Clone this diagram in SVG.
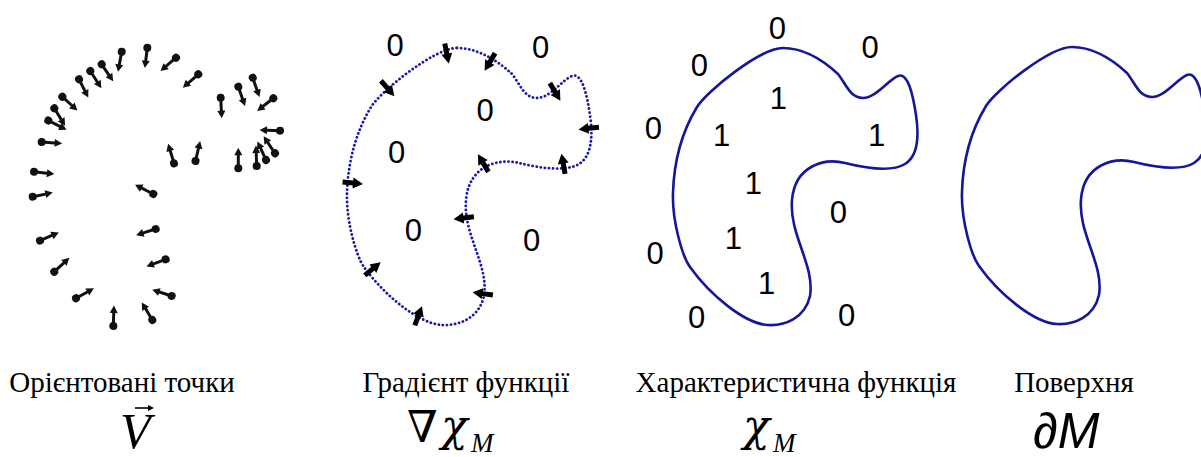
<svg xmlns="http://www.w3.org/2000/svg" width="1201" height="457" viewBox="0 0 1201 457">
<style>
.bg{fill:#fff}
.shape{fill:none;stroke:#16169a;stroke-width:2.6;stroke-linejoin:round}
.dotted{fill:none;stroke:#1a1aa6;stroke-width:2.8;stroke-dasharray:0.1 4;stroke-linecap:round}
.dig{font-family:"Liberation Sans",Arial,sans-serif;font-size:31px;fill:#000;text-anchor:middle}
.lbl{font-family:"Liberation Serif","Times New Roman",serif;font-size:29px;fill:#000;text-anchor:middle}
.math{font-family:"Liberation Serif","DejaVu Serif",serif;fill:#000}
.greek{font-family:"DejaVu Serif","Liberation Serif",serif;font-style:italic;fill:#000}
.pin{fill:#111}
.garr{fill:#000}
</style>
<defs>
<path id="blob" d="M783,48 C805,48 825,62 838,74 C846,84 850,98 863,98 C876,98 888,80 898,76 C908,72 913,95 916,115 C919,135 918,156 905,164 C892,172 865,168 845,163 C825,158 795,165 792,200 C789,235 815,265 810,296 C805,318 785,326 768,325 C745,324 710,295 690,267 C682,256 672,220 673,193 C674,160 683,130 697,107 C706,92 760,48 783,48 Z"/>
<g id="pin"><circle r="4"/><path d="M0,-1.5 H13 V-4 L20.5,0 L13,4 V1.5 H0 Z"/></g>
<path id="ga" d="M-10,-2.5 H0.5 V-5.5 L10.5,0 L0.5,5.5 V2.5 H-10 Z"/>
</defs>
<rect class="bg" width="1201" height="457"/>

<g id="oriented-points" class="pin">
<use href="#pin" transform="translate(121.7,51.7) rotate(100.5)"/>
<use href="#pin" transform="translate(147.3,47.7) rotate(96.9)"/>
<use href="#pin" transform="translate(101.7,64.3) rotate(56)"/>
<use href="#pin" transform="translate(90.3,71) rotate(57.4)"/>
<use href="#pin" transform="translate(79,79.3) rotate(63.2)"/>
<use href="#pin" transform="translate(62.3,96.7) rotate(42.7)"/>
<use href="#pin" transform="translate(54.3,108.3) rotate(58.1)"/>
<use href="#pin" transform="translate(48.3,120.5) rotate(27)"/>
<use href="#pin" transform="translate(41.7,142) rotate(3.9)"/>
<use href="#pin" transform="translate(176,57.7) rotate(139.3)"/>
<use href="#pin" transform="translate(198.3,74.3) rotate(139.1)"/>
<use href="#pin" transform="translate(220.7,97.7) rotate(87.1)"/>
<use href="#pin" transform="translate(238.3,86.7) rotate(70.9)"/>
<use href="#pin" transform="translate(252.7,77.7) rotate(70.8)"/>
<use href="#pin" transform="translate(273.3,98.3) rotate(142)"/>
<use href="#pin" transform="translate(280,130.7) rotate(182)"/>
<use href="#pin" transform="translate(275,153.3) rotate(236.3)"/>
<use href="#pin" transform="translate(266,160) rotate(245.2)"/>
<use href="#pin" transform="translate(256.7,166) rotate(267.9)"/>
<use href="#pin" transform="translate(238.3,168.3) rotate(270)"/>
<use href="#pin" transform="translate(174,163.3) rotate(253.3)"/>
<use href="#pin" transform="translate(195.5,161) rotate(283.1)"/>
<use href="#pin" transform="translate(34,171.7) rotate(6.6)"/>
<use href="#pin" transform="translate(32.7,196.7) rotate(-11.5)"/>
<use href="#pin" transform="translate(40,240.7) rotate(-23.6)"/>
<use href="#pin" transform="translate(54.3,271.7) rotate(-42.5)"/>
<use href="#pin" transform="translate(76,298.3) rotate(-29.1)"/>
<use href="#pin" transform="translate(113.3,326) rotate(-88)"/>
<use href="#pin" transform="translate(152.3,320) rotate(-120.9)"/>
<use href="#pin" transform="translate(171.7,296) rotate(198.1)"/>
<use href="#pin" transform="translate(165.7,259.3) rotate(159.8)"/>
<use href="#pin" transform="translate(155.7,229) rotate(162.5)"/>
<use href="#pin" transform="translate(153.3,194) rotate(207.1)"/>
</g>

<g id="gradient">
<use href="#blob" class="dotted" transform="translate(-326,0)"/>
<g class="garr">
<use href="#ga" transform="translate(446.7,53.3) rotate(78.8)"/>
<use href="#ga" transform="translate(490,61.7) rotate(120.9)"/>
<use href="#ga" transform="translate(387.5,88.3) rotate(48.9)"/>
<use href="#ga" transform="translate(555,91.7) rotate(59.1)"/>
<use href="#ga" transform="translate(589,128.3) rotate(173.8)"/>
<use href="#ga" transform="translate(563.3,164) rotate(-100.2)"/>
<use href="#ga" transform="translate(483.3,163.3) rotate(-120.9)"/>
<use href="#ga" transform="translate(352.5,183) rotate(5.3)"/>
<use href="#ga" transform="translate(464,218) rotate(172.9)"/>
<use href="#ga" transform="translate(372.5,269) rotate(-39.4)"/>
<use href="#ga" transform="translate(483,293.7) rotate(-172.1)"/>
<use href="#ga" transform="translate(418.3,316) rotate(-69.3)"/>
</g>
<g class="dig">
<text x="395" y="56">0</text>
<text x="540.7" y="57.7">0</text>
<text x="485" y="121">0</text>
<text x="396.7" y="162.7">0</text>
<text x="413.3" y="241">0</text>
<text x="531.7" y="251">0</text>
</g>
</g>

<g id="characteristic">
<use href="#blob" class="shape"/>
<g class="dig">
<text x="777.3" y="39.3">0</text>
<text x="870" y="57.7">0</text>
<text x="699.3" y="76">0</text>
<text x="653.3" y="139.3">0</text>
<text x="778.3" y="109.3">1</text>
<text x="721.7" y="146">1</text>
<text x="876.7" y="146">1</text>
<text x="753.3" y="194.3">1</text>
<text x="838.3" y="222.7">0</text>
<text x="733.3" y="249.3">1</text>
<text x="655" y="264.3">0</text>
<text x="766.7" y="294.3">1</text>
<text x="696.7" y="327.7">0</text>
<text x="846.7" y="326">0</text>
</g>
</g>

<g id="surface">
<use href="#blob" class="shape" transform="translate(289,-1)"/>
</g>

<g id="labels">
<text class="lbl" x="122" y="392">Орієнтовані точки</text>
<text class="lbl" x="466" y="392">Градієнт функції</text>
<text class="lbl" x="796" y="392">Характеристична функція</text>
<text class="lbl" x="1074" y="392">Поверхня</text>

<text class="math" x="120" y="448" font-size="50" font-style="italic">V</text>
<path d="M135,408 H150" stroke="#000" stroke-width="1.6"/>
<path d="M148,405 L154,408 L148,411 Z" fill="#000"/>

<text class="math" x="407" y="442" font-size="44">∇</text>
<text class="greek" x="441" y="441" font-size="44">χ</text>
<text class="math" x="471" y="452" font-size="27" font-style="italic">M</text>

<text class="greek" x="743" y="441" font-size="44">χ</text>
<text class="math" x="773" y="452" font-size="27" font-style="italic">M</text>

<text x="1033" y="448" font-family="'Liberation Sans',Arial,sans-serif" font-size="50" font-style="italic" fill="#000">∂M</text>
</g>
</svg>
